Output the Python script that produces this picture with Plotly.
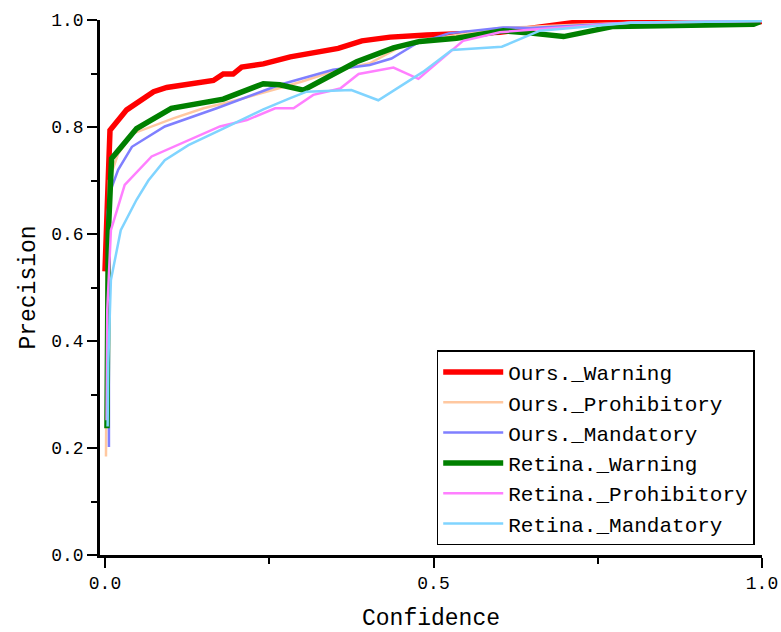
import plotly.graph_objects as go

# ---- data ----
ours_warning_x = [0.000, 0.002, 0.004, 0.0076, 0.033, 0.053, 0.074, 0.094, 0.124, 0.165, 0.180, 0.195, 0.208, 0.241, 0.282, 0.355, 0.391, 0.434, 0.490, 0.571, 0.601, 0.718, 1.000]
ours_warning_y = [0.530, 0.600, 0.740, 0.794, 0.832, 0.850, 0.866, 0.874, 0.880, 0.887, 0.899, 0.899, 0.912, 0.918, 0.931, 0.947, 0.961, 0.968, 0.972, 0.975, 0.977, 0.996, 0.997]

ours_prohib_x = [0.0015, 0.003, 0.006, 0.020, 0.043, 0.104, 0.150, 0.200, 0.266, 0.300, 0.350, 0.403, 0.450, 0.500, 0.550, 0.600, 0.700, 0.800, 1.000]
ours_prohib_y = [0.184, 0.500, 0.700, 0.750, 0.788, 0.816, 0.835, 0.850, 0.873, 0.885, 0.905, 0.919, 0.950, 0.965, 0.975, 0.985, 0.990, 0.995, 1.000]

ours_mand_x = [0.006, 0.006, 0.004, 0.008, 0.020, 0.041, 0.091, 0.170, 0.266, 0.347, 0.403, 0.436, 0.474, 0.523, 0.606, 0.647, 0.800, 1.000]
ours_mand_y = [0.202, 0.450, 0.640, 0.680, 0.720, 0.763, 0.801, 0.835, 0.879, 0.907, 0.916, 0.928, 0.956, 0.975, 0.986, 0.985, 0.995, 0.998]

ret_warning_x = [0.003, 0.005, 0.010, 0.048, 0.101, 0.180, 0.241, 0.266, 0.302, 0.383, 0.439, 0.479, 0.535, 0.606, 0.652, 0.698, 0.774, 0.987, 0.997]
ret_warning_y = [0.237, 0.600, 0.741, 0.797, 0.835, 0.852, 0.881, 0.879, 0.869, 0.922, 0.948, 0.960, 0.966, 0.980, 0.975, 0.969, 0.988, 0.992, 0.997]

ret_prohib_x = [0.0025, 0.0035, 0.009, 0.030, 0.071, 0.129, 0.175, 0.216, 0.259, 0.287, 0.317, 0.358, 0.386, 0.439, 0.477, 0.545, 0.601, 0.647, 0.800, 1.000]
ret_prohib_y = [0.252, 0.458, 0.607, 0.692, 0.745, 0.776, 0.801, 0.813, 0.835, 0.835, 0.860, 0.872, 0.899, 0.911, 0.890, 0.961, 0.977, 0.982, 0.995, 0.998]

ret_mand_x = [0.004, 0.005, 0.009, 0.024, 0.048, 0.066, 0.091, 0.127, 0.180, 0.241, 0.282, 0.307, 0.375, 0.416, 0.484, 0.528, 0.604, 0.662, 0.800, 1.000]
ret_mand_y = [0.240, 0.359, 0.514, 0.607, 0.664, 0.700, 0.738, 0.766, 0.797, 0.833, 0.854, 0.866, 0.869, 0.850, 0.903, 0.944, 0.950, 0.980, 0.995, 0.998]

series = [
    ("Ours._Warning", ours_warning_x, ours_warning_y, "#ff0000", 5.5),
    ("Ours._Prohibitory", ours_prohib_x, ours_prohib_y, "rgb(255,200,160)", 2.5),
    ("Ours._Mandatory", ours_mand_x, ours_mand_y, "#7f7fff", 2.5),
    ("Retina._Warning", ret_warning_x, ret_warning_y, "#008000", 5.5),
    ("Retina._Prohibitory", ret_prohib_x, ret_prohib_y, "#ff7fff", 2.5),
    ("Retina._Mandatory", ret_mand_x, ret_mand_y, "#80d4ff", 2.5),
]

x_ticks = [0.0, 0.5, 1.0]
y_ticks = [0.0, 0.2, 0.4, 0.6, 0.8, 1.0]

FONT = "Liberation Mono"

fig = go.Figure()
for name, xs, ys, color, w in series:
    fig.add_trace(go.Scatter(x=xs, y=ys, mode="lines", name=name,
                             line=dict(color=color, width=w)))

fig.update_layout(
    width=781, height=632,
    margin=dict(l=100, r=19, t=20, b=77, autoexpand=False),
    paper_bgcolor="white", plot_bgcolor="white",
    font=dict(family=FONT, size=18, color="black"),
    legend=dict(x=0.989, y=0.018, xanchor="right", yanchor="bottom",
                bordercolor="black", borderwidth=1.5, bgcolor="white",
                font=dict(family=FONT, size=21), itemwidth=60,
                tracegroupgap=0),
    showlegend=True,
)
fig.update_xaxes(
    range=[-0.0076, 1.0], showgrid=False, zeroline=False, automargin=False,
    showline=True, linecolor="black", linewidth=2.5,
    ticks="outside", ticklen=10, tickwidth=2, tickcolor="black",
    tickvals=x_ticks, ticktext=[f"{v:.1f}" for v in x_ticks],
    tickfont=dict(family=FONT, size=18),
    minor=dict(ticks="outside", ticklen=6, tickwidth=2, tickcolor="black", dtick=0.25, tick0=0),
    title=dict(text="Confidence", font=dict(family=FONT, size=23), standoff=18),
)
fig.update_yaxes(
    range=[0, 1.0], showgrid=False, zeroline=False, automargin=False,
    showline=True, linecolor="black", linewidth=2.5,
    ticks="outside", ticklen=10, tickwidth=2, tickcolor="black",
    tickvals=y_ticks, ticktext=[f"{v:.1f}" for v in y_ticks],
    tickfont=dict(family=FONT, size=18),
    minor=dict(ticks="outside", ticklen=6, tickwidth=2, tickcolor="black", dtick=0.1, tick0=0),
    title=dict(text="Precision", font=dict(family=FONT, size=23), standoff=10),
)

fig.write_html("out.html", config={"displayModeBar": False},
               post_script="document.body.style.margin='0';document.body.style.overflow='hidden';")
